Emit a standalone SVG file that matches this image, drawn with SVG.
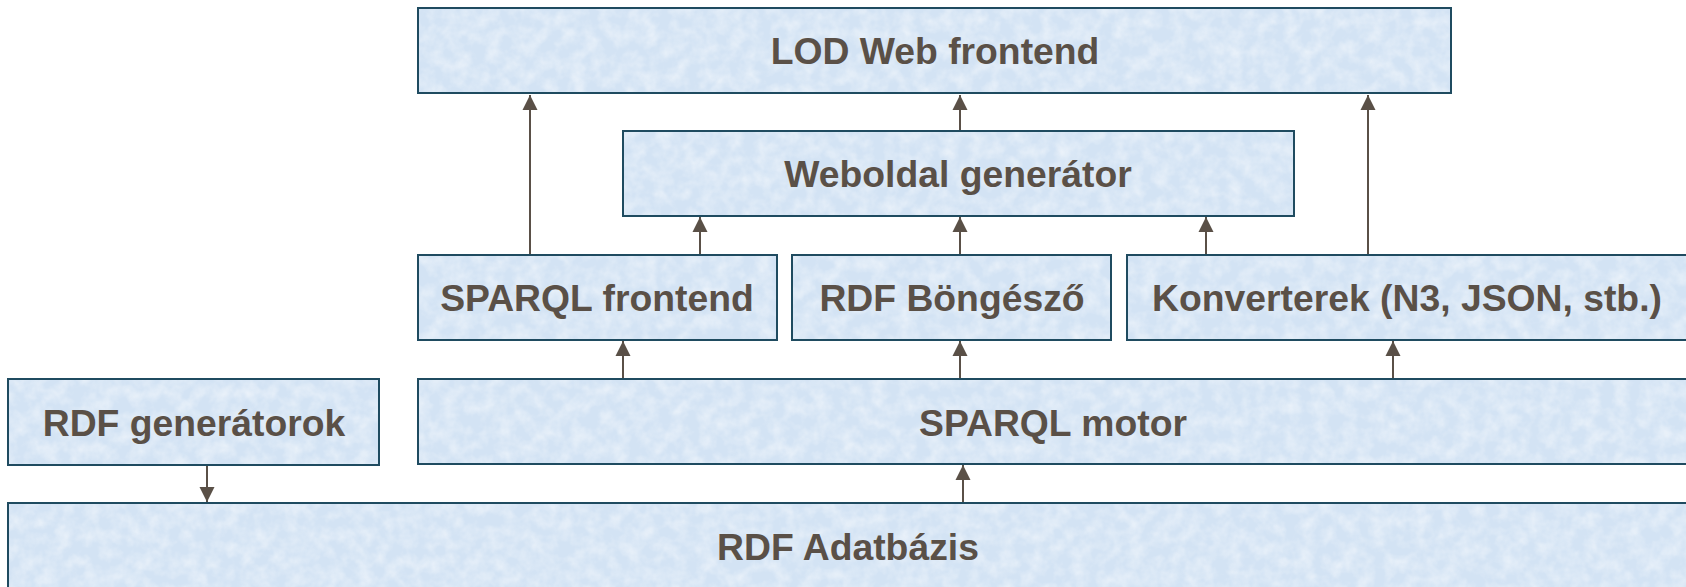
<svg xmlns="http://www.w3.org/2000/svg" width="1686" height="587" viewBox="0 0 1686 587">
  <defs>
    <style>
      .box { fill: #d3e3f4; stroke: #1f4b60; stroke-width: 2; }
      .tex { fill: #ffffff; filter: url(#tex); opacity: 0.55; }
      .lbl { font-family: "Liberation Sans", Arial, sans-serif; font-weight: bold; font-size: 37.3px; fill: #5a5047; text-anchor: middle; }
      .conn { stroke: #5a5047; stroke-width: 2; fill: none; marker-end: url(#ah); }
    </style>
    <filter id="tex" x="0" y="0" width="1" height="1">
      <feTurbulence type="fractalNoise" baseFrequency="0.07" numOctaves="3" seed="5" result="n"/>
      <feColorMatrix in="n" type="matrix" values="0 0 0 0 1  0 0 0 0 1  0 0 0 0 1  1.6 0 0 0 -0.55" result="w"/>
      <feComposite in="w" in2="SourceGraphic" operator="in"/>
    </filter>
    <marker id="ah" markerUnits="userSpaceOnUse" markerWidth="16" markerHeight="16" viewBox="0 0 16 16" refX="15" refY="8" orient="auto">
      <path d="M0,0.5 L15,8 L0,15.5 Z" fill="#5a5047"/>
    </marker>
  </defs>

  <g id="connectors">
    <line class="conn" x1="530" y1="255" x2="530" y2="95"/>
    <line class="conn" x1="960" y1="131" x2="960" y2="95"/>
    <line class="conn" x1="1368" y1="255" x2="1368" y2="95"/>
    <line class="conn" x1="700" y1="255" x2="700" y2="217"/>
    <line class="conn" x1="960" y1="255" x2="960" y2="217"/>
    <line class="conn" x1="1206" y1="255" x2="1206" y2="217"/>
    <line class="conn" x1="623" y1="379" x2="623" y2="341"/>
    <line class="conn" x1="960" y1="379" x2="960" y2="341"/>
    <line class="conn" x1="1393" y1="379" x2="1393" y2="341"/>
    <line class="conn" x1="207" y1="465" x2="207" y2="502"/>
    <line class="conn" x1="963" y1="503" x2="963" y2="465"/>
  </g>

  <g id="lod-web-frontend">
    <rect class="box" x="418" y="8" width="1033" height="85"/>
    <rect class="tex" x="419" y="9" width="1031" height="83"/>
    <text class="lbl" x="935" y="64">LOD Web frontend</text>
  </g>

  <g id="weboldal-generator">
    <rect class="box" x="623" y="131" width="671" height="85"/>
    <rect class="tex" x="624" y="132" width="669" height="83"/>
    <text class="lbl" x="958" y="187">Weboldal generátor</text>
  </g>

  <g id="sparql-frontend">
    <rect class="box" x="418" y="255" width="359" height="85"/>
    <rect class="tex" x="419" y="256" width="357" height="83"/>
    <text class="lbl" x="597" y="311">SPARQL frontend</text>
  </g>

  <g id="rdf-bongeszo">
    <rect class="box" x="792" y="255" width="319" height="85"/>
    <rect class="tex" x="793" y="256" width="317" height="83"/>
    <text class="lbl" x="952" y="311">RDF Böngésző</text>
  </g>

  <g id="konverterek">
    <rect class="box" x="1127" y="255" width="561" height="85"/>
    <rect class="tex" x="1128" y="256" width="559" height="83"/>
    <text class="lbl" x="1407" y="311">Konverterek (N3, JSON, stb.)</text>
  </g>

  <g id="rdf-generatorok">
    <rect class="box" x="8" y="379" width="371" height="86"/>
    <rect class="tex" x="9" y="380" width="369" height="84"/>
    <text class="lbl" x="194" y="436">RDF generátorok</text>
  </g>

  <g id="sparql-motor">
    <rect class="box" x="418" y="379" width="1270" height="85"/>
    <rect class="tex" x="419" y="380" width="1268" height="83"/>
    <text class="lbl" x="1053" y="436">SPARQL motor</text>
  </g>

  <g id="rdf-adatbazis">
    <rect class="box" x="8" y="503" width="1680" height="90"/>
    <rect class="tex" x="9" y="504" width="1678" height="88"/>
    <text class="lbl" x="848" y="560">RDF Adatbázis</text>
  </g>
</svg>
